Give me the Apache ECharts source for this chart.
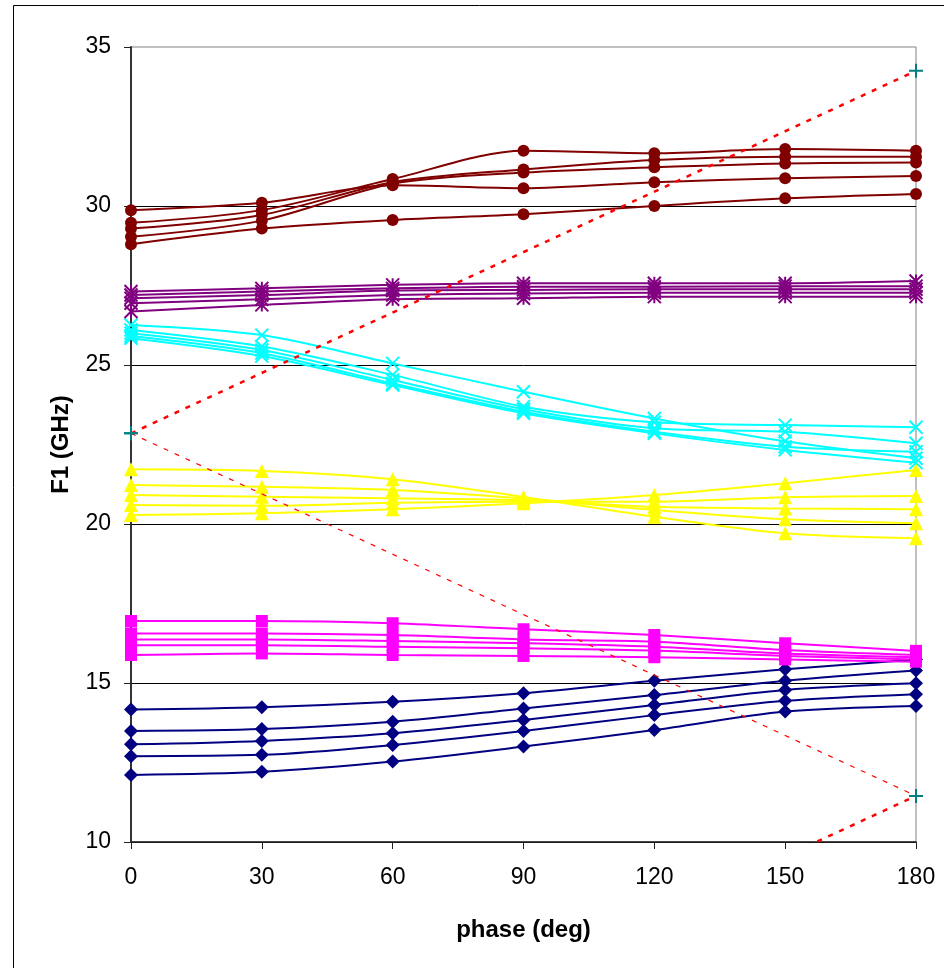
<!DOCTYPE html>
<html>
<head>
<meta charset="utf-8">
<title>F1 vs phase</title>
<script src="https://cdn.jsdelivr.net/npm/echarts@6/dist/echarts.min.js"></script>
<style>
  html, body { margin: 0; padding: 0; background: #fff; }
  #chart { width: 944px; height: 968px; }
</style>
</head>
<body>
<div id="chart"></div>
<script>
// Phase steps (deg) shared by every mode family
const phase = [0, 30, 60, 90, 120, 150, 180];

// F1 (GHz) per family, five curves each, one value per phase step
const maroonCircles = [
  [29.87, 30.10, 30.65, 30.56, 30.75, 30.87, 30.94],
  [29.47, 29.87, 30.85, 31.74, 31.66, 31.79, 31.74],
  [29.29, 29.72, 30.75, 31.15, 31.45, 31.55, 31.55],
  [29.03, 29.54, 30.70, 31.05, 31.22, 31.34, 31.37],
  [28.80, 29.29, 29.56, 29.74, 30.00, 30.24, 30.38]
];
const purpleStars = [
  [27.31, 27.41, 27.52, 27.57, 27.57, 27.57, 27.64],
  [27.20, 27.31, 27.41, 27.46, 27.46, 27.48, 27.48],
  [27.10, 27.20, 27.34, 27.36, 27.38, 27.38, 27.38],
  [26.94, 27.07, 27.20, 27.25, 27.27, 27.27, 27.27],
  [26.68, 26.89, 27.07, 27.10, 27.15, 27.15, 27.15]
];
const cyanCrosses = [
  [26.26, 25.94, 25.05, 24.16, 23.32, 22.60, 22.07],
  [26.10, 25.58, 24.69, 23.69, 23.20, 23.11, 23.04],
  [26.00, 25.47, 24.53, 23.61, 23.01, 22.90, 22.54],
  [25.91, 25.37, 24.42, 23.53, 22.90, 22.43, 22.27],
  [25.84, 25.28, 24.37, 23.48, 22.85, 22.33, 21.93]
];
const yellowTriangles = [
  [21.72, 21.67, 21.41, 20.85, 20.23, 19.71, 19.55],
  [21.23, 21.17, 21.07, 20.80, 20.44, 20.15, 20.02],
  [20.91, 20.86, 20.81, 20.75, 20.54, 20.49, 20.46],
  [20.60, 20.57, 20.67, 20.70, 20.70, 20.84, 20.88],
  [20.28, 20.34, 20.46, 20.65, 20.91, 21.28, 21.70]
];
const magentaSquares = [
  [16.95, 16.95, 16.88, 16.69, 16.51, 16.25, 16.01],
  [16.56, 16.56, 16.51, 16.37, 16.30, 16.04, 15.88],
  [16.37, 16.37, 16.32, 16.25, 16.14, 15.93, 15.81],
  [16.19, 16.19, 16.14, 16.09, 16.02, 15.85, 15.74],
  [15.88, 15.93, 15.88, 15.85, 15.81, 15.74, 15.67]
];
const navyDiamonds = [
  [14.17, 14.24, 14.41, 14.68, 15.07, 15.43, 15.74],
  [13.49, 13.55, 13.78, 14.20, 14.62, 15.07, 15.39],
  [13.07, 13.18, 13.42, 13.84, 14.31, 14.78, 14.99],
  [12.70, 12.74, 13.05, 13.49, 13.99, 14.44, 14.65],
  [12.11, 12.21, 12.53, 13.00, 13.52, 14.10, 14.28]
];

// Light lines: [phase, F1] end points
const lightUp = [[0, 22.85], [180, 34.25]];
const lightDown = [[0, 22.85], [180, 11.45]];
const lightLow = [[0, 0.05], [180, 11.45]];

// Axis ticks
const xTicks = { min: 0, max: 180, step: 30 };
const yTicks = { min: 10, max: 35, step: 5 };

const FONT = '"Liberation Sans", Arial, sans-serif';

const starPath = 'path://M0,0L10,10M10,0L0,10M5,0L5,10';
const crossPath = 'path://M0,0L10,10M10,0L0,10';
const plusPath = 'path://M0,5L10,5M5,0L5,10';

function family(rows, name, color, symbol, size, stroked) {
  return rows.map((vals, i) => ({
    name: name + ' ' + (i + 1),
    type: 'line',
    data: phase.map((p, k) => [p, vals[k]]),
    smooth: 0.3,
    symbol: symbol,
    symbolSize: size,
    showAllSymbol: true,
    lineStyle: { color: color, width: 2 },
    itemStyle: stroked
      ? { color: color, borderColor: color, borderWidth: 2 }
      : { color: color },
    emphasis: { disabled: true },
    z: 3
  }));
}

function light(points, name, width, dash) {
  return {
    name: name,
    type: 'line',
    data: points,
    symbol: plusPath,
    symbolSize: 14,
    showAllSymbol: true,
    lineStyle: { color: '#ff0000', width: width, type: dash },
    itemStyle: { color: '#008080', borderColor: '#008080', borderWidth: 2 },
    emphasis: { disabled: true },
    clip: true,
    z: 5
  };
}

const series = [].concat(
  family(navyDiamonds, 'mode 1', '#000080', 'diamond', 14, false),
  family(magentaSquares, 'mode 2', '#ff00ff', 'rect', [12, 12], false),
  family(yellowTriangles, 'mode 3', '#ffff00', 'triangle', 14, false),
  family(cyanCrosses, 'mode 4', '#00ffff', crossPath, 13, true),
  family(purpleStars, 'mode 5', '#800080', starPath, 13, true),
  family(maroonCircles, 'mode 6', '#800000', 'circle', 12, false),
  [
    light(lightUp, 'light line +', 2.5, [5, 7]),
    light(lightLow, 'light line low', 2.5, [5, 7]),
    light(lightDown, 'light line -', 1.2, [5, 7])
  ]
);

const chart = echarts.init(document.getElementById('chart'), null, { renderer: 'canvas' });
chart.setOption({
  animation: false,
  backgroundColor: '#ffffff',
  graphic: [{
    type: 'rect',
    shape: { x: 13.5, y: 5.5, width: 1000, height: 1000 },
    style: { fill: null, stroke: '#000', lineWidth: 1 },
    silent: true,
    z: -10
  }],
  grid: {
    left: 131, top: 47, right: 28, bottom: 126,
    containLabel: false,
    show: true,
    borderColor: '#808080',
    borderWidth: 1,
    backgroundColor: 'rgba(0,0,0,0)'
  },
  xAxis: {
    type: 'value',
    min: xTicks.min, max: xTicks.max, interval: xTicks.step,
    name: 'phase (deg)',
    nameLocation: 'middle',
    nameGap: 76,
    nameTextStyle: { fontFamily: FONT, fontSize: 24, fontWeight: 'bold', color: '#000' },
    axisLine: { show: true, onZero: false, lineStyle: { color: '#222', width: 1.5 } },
    axisTick: { show: true, inside: false, length: 7, lineStyle: { color: '#222', width: 1 } },
    axisLabel: { fontFamily: FONT, fontSize: 23, color: '#000', margin: 24 },
    splitLine: { show: false }
  },
  yAxis: {
    type: 'value',
    min: yTicks.min, max: yTicks.max, interval: yTicks.step,
    name: 'F1 (GHz)',
    nameLocation: 'middle',
    nameGap: 58,
    nameRotate: 90,
    nameTextStyle: { fontFamily: FONT, fontSize: 24, fontWeight: 'bold', color: '#000' },
    axisLine: { show: true, onZero: false, lineStyle: { color: '#333', width: 2 } },
    axisTick: { show: true, inside: false, length: 7, lineStyle: { color: '#222', width: 1 } },
    axisLabel: { fontFamily: FONT, fontSize: 23, color: '#000', margin: 20 },
    splitLine: { show: true, showMaxLine: false, lineStyle: { color: '#000', width: 1 } }
  },
  tooltip: { show: false },
  series: series
});
</script>
</body>
</html>
